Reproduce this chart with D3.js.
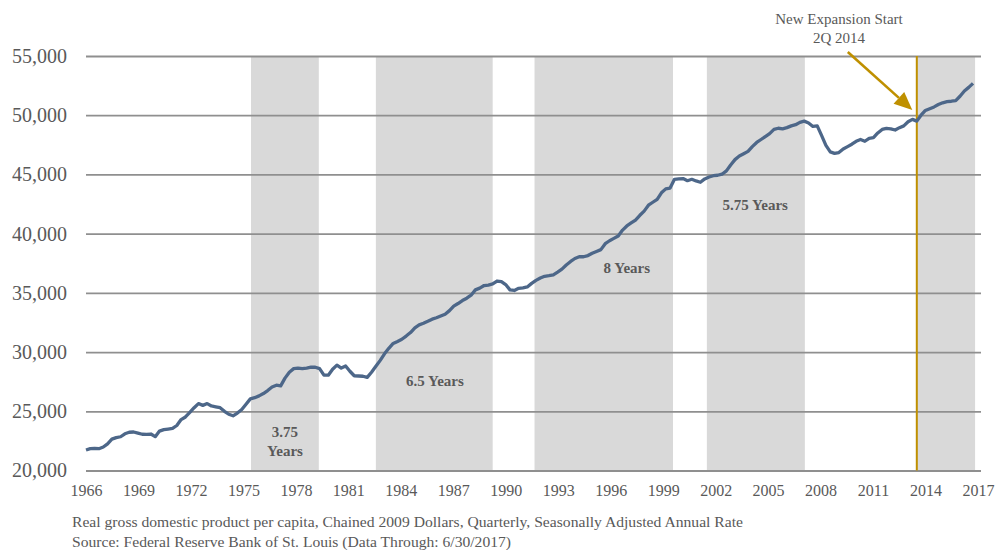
<!DOCTYPE html>
<html>
<head>
<meta charset="utf-8">
<script src="https://cdn.jsdelivr.net/npm/d3@7"></script>
<style>
	body { margin: 0; background: #fff; }
	svg text { font-family: "Liberation Serif", "DejaVu Serif", serif; }
</style>
</head>
<body>
<div id="chart"></div>
<script>
const FONT = "Liberation Serif";
const SIZE = [997, 550];

// quarterly real GDP per capita, 1966 Q1 .. 2017 Q2
const START_YEAR = 1966;
const gdpPerCapita = [
	21730, 21850, 21870, 21840, // 1966
	21980, 22250, 22650, 22780, // 1967
	22850, 23100, 23230, 23250, // 1968
	23150, 23060, 23050, 23080, // 1969
	22860, 23330, 23450, 23500, // 1970
	23550, 23800, 24300, 24520, // 1971
	24900, 25300, 25650, 25500, // 1972
	25650, 25450, 25380, 25300, // 1973
	25000, 24750, 24620, 24850, // 1974
	25150, 25600, 26050, 26150, // 1975
	26300, 26500, 26750, 27050, // 1976
	27200, 27150, 27800, 28300, // 1977
	28600, 28650, 28600, 28650, // 1978
	28720, 28720, 28600, 28050, // 1979
	28050, 28550, 28900, 28650, // 1980
	28820, 28380, 28000, 27980, // 1981
	27960, 27860, 28300, 28800, // 1982
	29300, 29850, 30320, 30730, // 1983
	30900, 31080, 31350, 31650, // 1984
	32050, 32300, 32430, 32600, // 1985
	32780, 32900, 33050, 33200, // 1986
	33500, 33880, 34100, 34350, // 1987
	34550, 34800, 35250, 35400, // 1988
	35620, 35660, 35750, 36000, // 1989
	35950, 35700, 35250, 35200, // 1990
	35380, 35420, 35500, 35800, // 1991
	36050, 36250, 36400, 36450, // 1992
	36520, 36750, 37000, 37350, // 1993
	37650, 37900, 38050, 38050, // 1994
	38150, 38350, 38500, 38650, // 1995
	39150, 39400, 39600, 39800, // 1996
	40300, 40650, 40900, 41150, // 1997
	41550, 41900, 42400, 42650, // 1998
	42900, 43450, 43780, 43850, // 1999
	44590, 44620, 44650, 44470, // 2000
	44590, 44450, 44340, 44620, // 2001
	44780, 44890, 44930, 45020, // 2002
	45300, 45800, 46250, 46550, // 2003
	46750, 46950, 47350, 47700, // 2004
	47950, 48200, 48450, 48800, // 2005
	48900, 48850, 48950, 49100, // 2006
	49200, 49400, 49500, 49350, // 2007
	49050, 49100, 48300, 47450, // 2008
	46900, 46780, 46850, 47150, // 2009
	47350, 47550, 47800, 47950, // 2010
	47800, 48050, 48100, 48500, // 2011
	48800, 48890, 48850, 48750, // 2012
	48950, 49100, 49450, 49650, // 2013
	49500, 50000, 50400, 50550, // 2014
	50700, 50900, 51050, 51140, // 2015
	51180, 51230, 51600, 52050, // 2016
	52350, 52690              // 2017
];

// shaded expansion periods
const expansionStarts = ["1975-07-15", "1982-10-01", "1991-12-01", "2001-11-15", "2014-01-01"];
const expansionEnds = ["1979-06-15", "1989-07-01", "1999-12-01", "2007-07-15", "2017-05-15"];
const expansionLabels = [["3.75", "Years"], ["6.5 Years"], ["8 Years"], ["5.75 Years"], []];
const labelDates = ["1977-07-01", "1986-03-01", "1997-04-01", "2004-09-01", null];
const labelValues = [22450, 27560, 37100, 42420, null];

const yTicks = [20000, 25000, 30000, 35000, 40000, 45000, 50000, 55000];
const xTickYears = d3.range(1966, 2018, 3);

const newExpansionDate = "2014-01-01";
const noteLines = [
	"Real gross domestic product per capita, Chained 2009 Dollars, Quarterly, Seasonally Adjusted Annual Rate",
	"Source: Federal Reserve Bank of St. Louis (Data Through: 6/30/2017)"
];

const parse = d3.timeParse("%Y-%m-%d");
const points = gdpPerCapita.map((v, i) => ({
	date: new Date(START_YEAR + Math.floor(i / 4), (i % 4) * 3, 1),
	value: v
}));

const x = d3.scaleTime()
	.domain([points[0].date, points[points.length - 1].date])
	.range([86, 973]);
// the year labels sit on their own even spacing in the original
const xLabel = d3.scaleLinear().domain([1966, 2017]).range([86, 978]);
const y = d3.scaleLinear().domain([20000, 55000]).range([470.5, 56]);

const GRID_RIGHT = 981;
const GOLD = "#BF9000";
const TEXT = "#595959";

const svg = d3.select("#chart").append("svg")
	.attr("width", SIZE[0])
	.attr("height", SIZE[1]);

// bands
svg.append("g")
	.selectAll("rect")
	.data(expansionStarts.map((s, i) => ({start: parse(s), end: parse(expansionEnds[i])})))
	.enter().append("rect")
	.attr("x", (d) => x(d.start))
	.attr("width", (d) => x(d.end) - x(d.start))
	.attr("y", y(55000))
	.attr("height", y(20000) - y(55000))
	.attr("fill", "#D9D9D9");

// y axis + gridlines
const yAxis = svg.append("g")
	.attr("transform", "translate(86,0)")
	.call(d3.axisLeft(y).tickValues(yTicks).tickFormat(d3.format(",")).tickSize(-(GRID_RIGHT - 86)).tickPadding(19));
yAxis.select(".domain").remove();
yAxis.selectAll("line").attr("stroke", "#8f8f8f").attr("stroke-width", 1.8);
yAxis.selectAll("text")
	.style("font-family", FONT)
	.style("font-size", "20px")
	.attr("fill", TEXT);

// x axis labels
const xAxis = svg.append("g")
	.attr("transform", "translate(0,476)")
	.call(d3.axisBottom(xLabel).tickValues(xTickYears).tickFormat(d3.format("d")).tickSize(0).tickPadding(9));
xAxis.select(".domain").remove();
xAxis.selectAll("text")
	.style("font-family", FONT)
	.style("font-size", "16px")
	.attr("fill", TEXT);

// band labels
expansionLabels.forEach((lines, i) => {
	if (!lines.length) return;
	const t = svg.append("text")
		.attr("x", x(parse(labelDates[i])))
		.attr("y", y(labelValues[i]) + 5 - (lines.length - 1) * 9.5)
		.attr("text-anchor", "middle")
		.style("font-family", FONT)
		.style("font-size", "15px")
		.style("font-weight", "bold")
		.attr("fill", TEXT);
	lines.forEach((line, j) => {
		t.append("tspan")
			.attr("x", x(parse(labelDates[i])))
			.attr("dy", j === 0 ? 0 : 19)
			.text(line);
	});
});

// new expansion marker
const xNew = x(parse(newExpansionDate));
svg.append("line")
	.attr("x1", xNew).attr("x2", xNew)
	.attr("y1", y(55000)).attr("y2", y(20000))
	.attr("stroke", GOLD)
	.attr("stroke-width", 2);

// data line
svg.append("path")
	.datum(points)
	.attr("fill", "none")
	.attr("stroke", "#4D6789")
	.attr("stroke-width", 3.3)
	.attr("stroke-linejoin", "round")
	.attr("d", d3.line().x((d) => x(d.date)).y((d) => y(d.value)));

// arrow to the start of the new expansion
const tip = [xNew - 4.5, y(50450)];
const tail = [xNew - 69, y(55340)];
const ang = Math.atan2(tip[1] - tail[1], tip[0] - tail[0]);
const headLen = 18, headW = 8;
const base = [tip[0] - headLen * Math.cos(ang), tip[1] - headLen * Math.sin(ang)];
svg.append("line")
	.attr("x1", tail[0]).attr("y1", tail[1])
	.attr("x2", base[0]).attr("y2", base[1])
	.attr("stroke", GOLD)
	.attr("stroke-width", 2.6);
svg.append("path")
	.attr("d", d3.line()([
		tip,
		[base[0] + headW * Math.sin(ang), base[1] - headW * Math.cos(ang)],
		[base[0] - headW * Math.sin(ang), base[1] + headW * Math.cos(ang)]
	]) + "Z")
	.attr("fill", GOLD);

svg.append("text")
	.attr("x", 839)
	.attr("y", 24)
	.attr("text-anchor", "middle")
	.style("font-family", FONT)
	.style("font-size", "15px")
	.attr("fill", TEXT)
	.text("New Expansion Start");
svg.append("text")
	.attr("x", 839)
	.attr("y", 43)
	.attr("text-anchor", "middle")
	.style("font-family", FONT)
	.style("font-size", "15px")
	.attr("fill", TEXT)
	.text("2Q 2014");

// footnote
const noteWidths = [671, 439];
svg.selectAll(".note")
	.data(noteLines)
	.enter().append("text")
	.attr("class", "note")
	.attr("x", 72)
	.attr("y", (d, i) => 527 + i * 19.5)
	.attr("textLength", (d, i) => noteWidths[i])
	.attr("lengthAdjust", "spacingAndGlyphs")
	.style("font-family", FONT)
	.style("font-size", "14px")
	.attr("fill", TEXT)
	.text((d) => d);
</script>
</body>
</html>
